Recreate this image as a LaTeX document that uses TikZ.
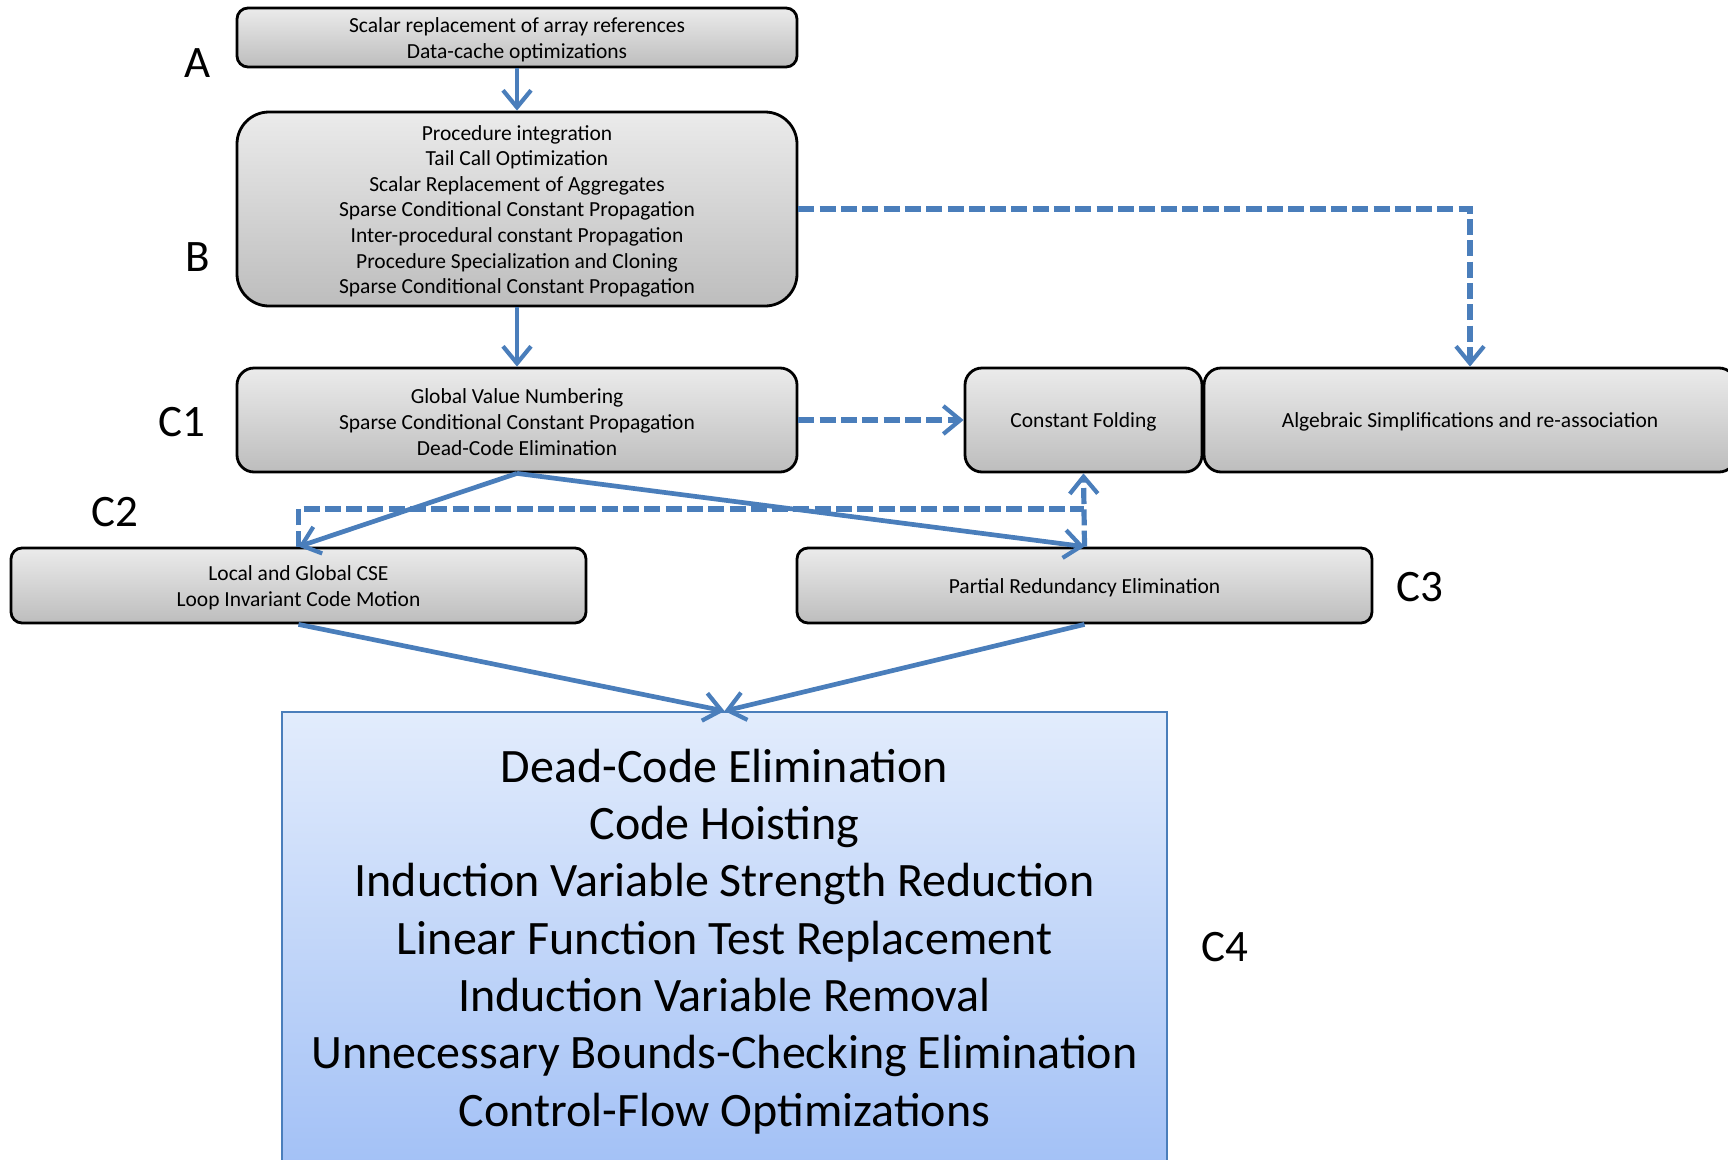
\documentclass[tikz,border=0pt]{standalone}
\usepackage{fontspec}
\setmainfont{Carlito}
\usetikzlibrary{arrows.meta,calc}
\definecolor{ablue}{HTML}{4A7EBB}
\definecolor{gtop}{HTML}{EBEBEB}
\definecolor{gbot}{HTML}{BDBDBD}
\definecolor{btop}{HTML}{E2ECFC}
\definecolor{bbot}{HTML}{A3C1F6}
\tikzset{
  graybox/.style={draw=black, line width=2.8pt, top color=gtop, bottom color=gbot, inner sep=0pt},
  graytext/.style={align=center, inner sep=0pt, yshift=-2.2pt, font=\fontsize{21.5}{25.6}\selectfont},
  bluebox/.style={draw=ablue, line width=2pt, top color=btop, bottom color=bbot, inner sep=0pt},
  bluetext/.style={align=center, inner sep=0pt, yshift=-3.3pt, font=\fontsize{48}{57.3}\selectfont},
  lbl/.style={font=\fontsize{45}{50}\selectfont, inner sep=0pt},
  conn/.style={draw=ablue, line width=4.7pt, -{Straight Barb[length=17pt,width=28pt,line width=4.2pt]}},
  dconn/.style={conn, line width=5.2pt, dash pattern=on 16pt off 5.3pt},
  dline/.style={draw=ablue, line width=5.2pt, dash pattern=on 16pt off 5.3pt},
}
\begin{document}
\begin{tikzpicture}[x=1pt,y=-1pt]
\useasboundingbox (0,0) rectangle (1728,1159);
\begin{scope}
\clip (0,0) rectangle (1728,1159);
\node[graybox, rounded corners=11pt, minimum width=560pt, minimum height=59pt] (A) at (517,37.5) {};
\node[graytext] (At) at (A.center) {Scalar replacement of array references\\Data-cache optimizations};
\node[graybox, rounded corners=32pt, minimum width=560pt, minimum height=194pt] (B) at (517,209) {};
\node[graytext] (Bt) at (B.center)
  {Procedure integration\\Tail Call Optimization\\Scalar Replacement of Aggregates\\Sparse Conditional Constant Propagation\\Inter-procedural constant Propagation\\Procedure Specialization and Cloning\\Sparse Conditional Constant Propagation};
\node[graybox, rounded corners=17pt, minimum width=560pt, minimum height=104pt] (C1) at (517,420) {};
\node[graytext] (C1t) at (C1.center)
  {Global Value Numbering\\Sparse Conditional Constant Propagation\\Dead-Code Elimination};
\node[graybox, rounded corners=17pt, minimum width=237pt, minimum height=104pt] (CF) at (1083.5,420) {};
\node[graytext] (CFt) at (CF.center) {Constant Folding};
\node[graybox, rounded corners=17pt, minimum width=532pt, minimum height=104pt] (AL) at (1470,420) {};
\node[graytext] (ALt) at (AL.center) {Algebraic Simplifications and re-association};
\node[graybox, rounded corners=11pt, minimum width=575pt, minimum height=75pt] (C2) at (298.5,585.5) {};
\node[graytext] (C2t) at (C2.center) {Local and Global CSE\\Loop Invariant Code Motion};
\node[graybox, rounded corners=11pt, minimum width=575pt, minimum height=75pt] (C3) at (1084.5,585.5) {};
\node[graytext] (C3t) at (C3.center) {Partial Redundancy Elimination};
\node[bluebox, minimum width=885pt, minimum height=452pt] (C4) at (724.5,938) {};
\node[bluetext] (C4t) at (C4.center)
  {Dead-Code Elimination\\Code Hoisting\\Induction Variable Strength Reduction\\Linear Function Test Replacement\\Induction Variable Removal\\Unnecessary Bounds-Checking Elimination\\Control-Flow Optimizations};
\end{scope}
\node[lbl] (LA) at (198,63) {A};
\node[lbl] (LB) at (198,257) {B};
\node[lbl] (LC1) at (182,422) {C1};
\node[lbl] (LC2) at (115,512) {C2};
\node[lbl] (LC3) at (1420,587) {C3};
\node[lbl] (LC4) at (1225,947) {C4};
\coordinate (J) at (1083.5,509);
\draw[conn] (A.south) -- (B.north);
\draw[conn] (B.south) -- (C1.north);
\draw[dconn] (B.east) -| (AL.north);
\draw[dconn] (C1.east) -- (CF.west);
\draw[dline] (C2.north) |- (J);
\draw[dconn] (C3.north) -- (CF.south);
\draw[conn] (C1.south) -- (C2.north);
\draw[conn] (C1.south) -- (C3.north);
\draw[conn] (C2.south) -- (C4.north);
\draw[conn] (C3.south) -- (C4.north);
\end{tikzpicture}
\end{document}
